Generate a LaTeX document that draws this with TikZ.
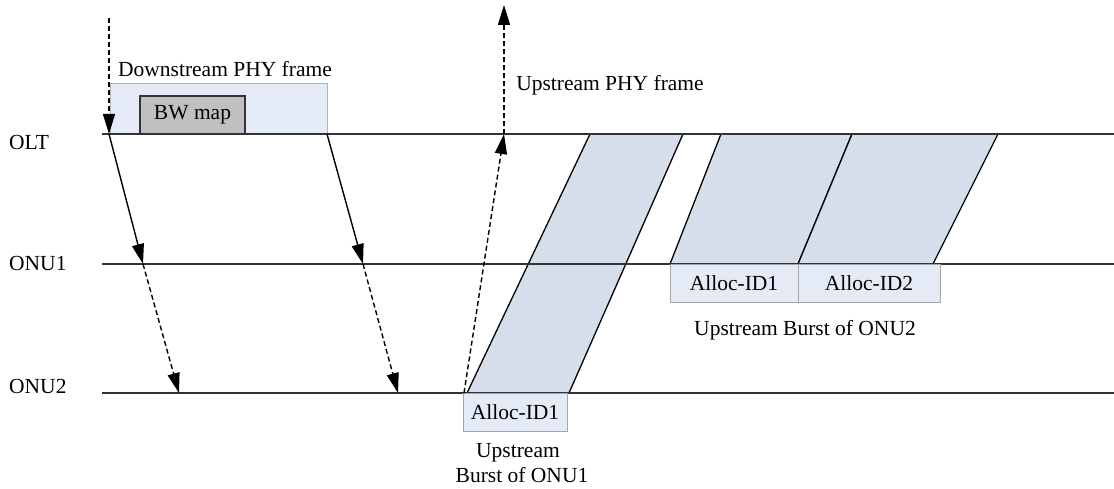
\documentclass[tikz,border=0pt]{standalone}
\usepackage{fontspec}
\setmainfont{Liberation Serif}
\usetikzlibrary{arrows.meta}
\definecolor{frameblue}{HTML}{E4EBF7}
\definecolor{burstblue}{HTML}{D5DEEA}
\definecolor{bwgray}{HTML}{C0C0C0}
\definecolor{linegray}{HTML}{333333}
\tikzset{
  lbl/.style={font=\fontsize{21.5}{25}\selectfont, inner sep=0pt, anchor=base},
  timeline/.style={draw=linegray, line width=1.6pt},
  framebox/.style={draw=gray!60, fill=frameblue, line width=0.8pt, inner sep=0pt},
  bwbox/.style={draw=linegray, fill=bwgray, line width=1.3pt, inner sep=0pt, font=\fontsize{21.5}{25}\selectfont},
  allocbox/.style={draw=gray!70, fill=frameblue, line width=0.8pt, inner sep=0pt, font=\fontsize{21.5}{25}\selectfont},
  burst/.style={draw=black, fill=burstblue, line width=1.3pt, line join=miter},
  sig/.style={draw=black, line width=1.4pt, -{Triangle[length=20pt,width=12pt]}},
  dsig/.style={sig, dash pattern=on 5pt off 3pt},
}
\begin{document}
\begin{tikzpicture}[x=1pt,y=-1pt]
\useasboundingbox (0,0) rectangle (1114,489);
% named points
\coordinate (oltL) at (102,134); \coordinate (oltR) at (1114,134);
\coordinate (onuAL) at (102,264); \coordinate (onuAR) at (1114,264);
\coordinate (onuBL) at (102,393); \coordinate (onuBR) at (1114,393);
\coordinate (dsTop) at (109,18);
\coordinate (d1o) at (109,134); \coordinate (d1a) at (143,264); \coordinate (d1b) at (179,393);
\coordinate (d2o) at (327,134); \coordinate (d2a) at (363,264); \coordinate (d2b) at (398,393);
\coordinate (usB) at (464,393); \coordinate (usO) at (504,134); \coordinate (usTop) at (504,5);

% downstream frame
\node[framebox, minimum width=217pt, minimum height=51pt] (dsframe) at (218.5,108.5) {};
\node[bwbox, minimum width=105pt, minimum height=38pt] (bwmap) at (192.5,115) {BW map};

% bursts
\path[burst] (467,393) -- (569,393) -- (683,134) -- (590,134) -- cycle;
\path[burst] (670,264) -- (798,264) -- (852,134) -- (721,134) -- cycle;
\path[burst] (798,264) -- (933,264) -- (998,134) -- (852,134) -- cycle;

% timelines
\draw[timeline] (oltL) -- (oltR);
\draw[timeline] (onuAL) -- (onuAR);
\draw[timeline] (onuBL) -- (onuBR);

% alloc boxes
\node[allocbox, minimum width=104pt, minimum height=38pt] (a11) at (515,412) {Alloc-ID1};
\node[allocbox, minimum width=128pt, minimum height=38pt] (a21) at (734,283) {Alloc-ID1};
\node[allocbox, minimum width=142pt, minimum height=38pt] (a22) at (869,283) {Alloc-ID2};

% signals
\draw[dsig] (dsTop) -- (d1o);
\draw[sig] (d1o) -- (d1a);
\draw[dsig] (d1a) -- (d1b);
\draw[sig] (d2o) -- (d2a);
\draw[dsig] (d2a) -- (d2b);
\draw[dsig] (usB) -- (usO);
\draw[dsig] (usO) -- (usTop);

% labels
\node[lbl, anchor=base west] (olt) at (9,150) {OLT};
\node[lbl, anchor=base west] (onu1) at (9,271) {ONU1};
\node[lbl, anchor=base west] (onu2) at (9,393) {ONU2};
\node[lbl] (dslbl) at (225,77) {Downstream PHY frame};
\node[lbl] (uslbl) at (610,91) {Upstream PHY frame};
\node[lbl] (ub1a) at (518,457) {Upstream};
\node[lbl] (ub1b) at (522,482) {Burst of ONU1};
\node[lbl] (ub2) at (805,335) {Upstream Burst of ONU2};
\end{tikzpicture}
\end{document}
